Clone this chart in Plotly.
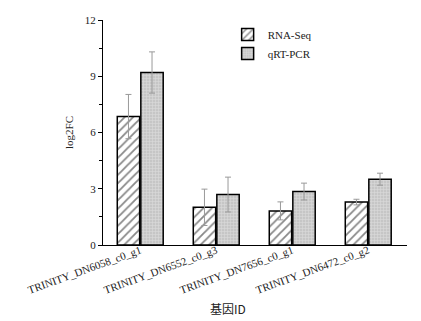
import plotly.graph_objects as go

genes = ["TRINITY_DN6058_c0_g1", "TRINITY_DN6552_c0_g3", "TRINITY_DN7656_c0_g1", "TRINITY_DN6472_c0_g2"]
rna_seq = [6.85, 2.01, 1.82, 2.29]
rna_err = [1.18, 0.97, 0.48, 0.15]
qpcr = [9.2, 2.69, 2.85, 3.51]
qpcr_err = [1.1, 0.93, 0.45, 0.32]

font_family = "'Liberation Serif', 'Times New Roman', serif"

fig = go.Figure()
fig.add_trace(go.Bar(
    x=genes, y=rna_seq, name="RNA-Seq",
    marker=dict(color="white", line=dict(color="black", width=1.5),
                pattern=dict(shape="/", fgcolor="#111111", bgcolor="white", size=6, solidity=0.3)),
    error_y=dict(type="data", array=rna_err, color="#999999", thickness=1, width=3),
))
fig.add_trace(go.Bar(
    x=genes, y=qpcr, name="qRT-PCR",
    marker=dict(color="#d0d0d0", line=dict(color="black", width=1.5),
                pattern=dict(shape="+", fgcolor="#f4f4f4", bgcolor="#c6c6c6", size=3, solidity=0.3)),
    error_y=dict(type="data", array=qpcr_err, color="#999999", thickness=1, width=3),
))

fig.add_annotation(
    text="基因ID", xref="paper", yref="paper", x=0.411, y=-0.28,
    xanchor="center", yanchor="middle", showarrow=False,
    font=dict(size=12, family="'Noto Sans CJK SC', serif", color="#222"),
)

fig.update_layout(
    width=413, height=313,
    margin=dict(l=95, r=14, t=12, b=76),
    paper_bgcolor="white", plot_bgcolor="white",
    barmode="group", bargap=0.38, bargroupgap=0.05,
    font=dict(family=font_family, size=11, color="#222"),
    showlegend=True,
    legend=dict(x=0.41, y=1.0, xanchor="left", yanchor="top",
                bgcolor="rgba(0,0,0,0)", font=dict(size=11, family=font_family),
                tracegroupgap=0, itemwidth=30),
    xaxis=dict(
        range=[-0.49, 3.51], showline=True, linecolor="black", linewidth=1.2,
        ticks="", tickangle=-20, tickfont=dict(size=11, family=font_family), automargin=False,
        ticklabelstandoff=-6,
        showgrid=False, zeroline=False,
    ),
    yaxis=dict(
        range=[0, 12], tickvals=[0, 3, 6, 9, 12], showline=True, linecolor="black", linewidth=1.2,
        ticks="outside", ticklen=4, tickwidth=1, tickcolor="black", automargin=False,
        minor=dict(tickvals=[1.5, 4.5, 7.5, 10.5], ticks="outside", ticklen=3, tickcolor="black"),
        showgrid=False, zeroline=False, tickfont=dict(size=11, family=font_family),
        title=dict(text="log2FC", font=dict(size=11, family=font_family), standoff=8),
    ),
)

fig.write_html("out.html")
